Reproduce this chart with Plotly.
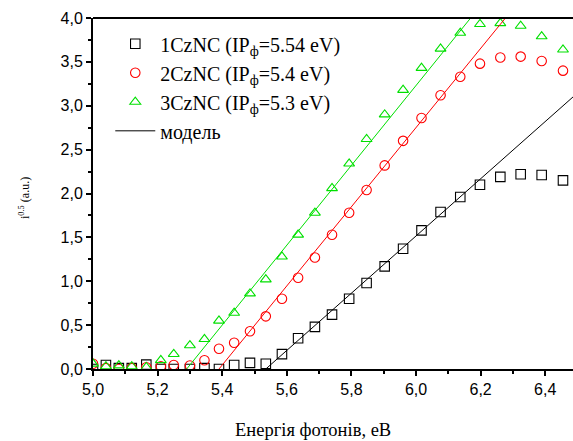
import plotly.graph_objects as go

# photon energies (eV)
energy = [5.00, 5.04, 5.08, 5.12, 5.165, 5.21, 5.25, 5.30, 5.345, 5.39,
          5.437, 5.486, 5.535, 5.585, 5.635, 5.687, 5.740, 5.793, 5.847,
          5.903, 5.960, 6.017, 6.076, 6.137, 6.198, 6.261, 6.324, 6.389, 6.455]

cz1 = [0.00, 0.045, 0.01, 0.01, 0.05, 0.00, 0.00, 0.00, 0.01, 0.00,
       0.045, 0.07, 0.06, 0.17, 0.35, 0.48, 0.62, 0.80, 0.98,
       1.17, 1.37, 1.58, 1.79, 1.96, 2.10, 2.19, 2.22, 2.21, 2.15]
cz2 = [0.06, 0.01, 0.00, 0.01, 0.02, 0.03, 0.045, 0.04, 0.10, 0.23,
       0.30, 0.43, 0.60, 0.80, 1.04, 1.27, 1.53, 1.78, 2.04,
       2.32, 2.60, 2.86, 3.12, 3.33, 3.48, 3.55, 3.56, 3.51, 3.40]
cz3 = [0.06, 0.03, 0.04, 0.03, 0.02, 0.10, 0.17, 0.27, 0.34, 0.55,
       0.64, 0.86, 1.02, 1.28, 1.53, 1.78, 2.06, 2.34, 2.62,
       2.90, 3.18, 3.43, 3.65, 3.83, 3.93, 3.94, 3.91, 3.79, 3.64]

# linear model: onset (IP) and slope for each compound
model_ip = [5.535, 5.39, 5.29]
model_slope = [3.26, 4.51, 4.55]
model_colors = ["#000000", "#ff0000", "#00e000"]
model_end = 6.5

labels = ["1CzNC (IP<sub>ф</sub>=5.54 eV)",
          "2CzNC (IP<sub>ф</sub>=5.4 eV)",
          "3CzNC (IP<sub>ф</sub>=5.3 eV)"]
symbols = ["square-open", "circle-open", "triangle-up-open"]
series = [cz1, cz2, cz3]

x_title = "Енергія фотонів, eВ"
y_title = "i<sup>0.5</sup> (a.u.)"

fig = go.Figure()
for j, (ys, lab, sym, col) in enumerate(zip(series, labels, symbols, model_colors)):
    fig.add_trace(go.Scatter(
        x=energy, y=ys, mode="markers", name=lab, legendgroup=f"g{j}",
        marker=dict(symbol=sym, size=9.5, color=col, line=dict(width=1.1, color=col)),
        cliponaxis=True))

for i, (ip, k, col) in enumerate(zip(model_ip, model_slope, model_colors)):
    xs = [ip, model_end]
    ys = [0.0, k * (model_end - ip)]
    fig.add_trace(go.Scatter(
        x=xs, y=ys, mode="lines", name="модель", legendgroup="model",
        line=dict(color=col, width=1),
        showlegend=(i == 0)))

serif = "Liberation Serif, Times New Roman, serif"
sans = "Liberation Sans, Arial, sans-serif"

fig.update_layout(
    width=573, height=441,
    margin=dict(l=93, r=0, t=18, b=72),
    plot_bgcolor="white", paper_bgcolor="white",
    separators=",.",
    showlegend=True,
    legend=dict(x=0.036, y=0.982, xanchor="left", yanchor="top",
                font=dict(family=serif, size=20, color="black"),
                bgcolor="rgba(0,0,0,0)", tracegroupgap=0,
                itemwidth=40),
    xaxis=dict(range=[5.0, 6.486], tickmode="linear", tick0=5.0, dtick=0.2,
               tickformat=".1f", ticks="outside", ticklen=5, tickwidth=1.5,
               tickcolor="black", showline=True, linecolor="black", linewidth=2,
               mirror=False, showgrid=False, zeroline=False,
               tickfont=dict(family=sans, size=16, color="black"),
               minor=dict(dtick=0.1, ticks="outside", ticklen=3, tickcolor="black", tickwidth=1.5)),
    yaxis=dict(range=[0, 4.0], tickmode="linear", tick0=0, dtick=0.5,
               tickformat=".1f", ticks="outside", ticklen=5, tickwidth=1.5,
               tickcolor="black", showline=True, linecolor="black", linewidth=2,
               showgrid=False, zeroline=False,
               tickfont=dict(family=sans, size=16, color="black"),
               minor=dict(dtick=0.25, ticks="outside", ticklen=3, tickcolor="black", tickwidth=1.5)),
    annotations=[
        dict(text=x_title, xref="paper", yref="paper", x=(313 - 93) / 480, y=-(430 - 369) / 351,
             xanchor="center", yanchor="middle", showarrow=False,
             font=dict(family=serif, size=18.5, color="black")),
        dict(text=y_title, xref="paper", yref="paper", x=(25 - 93) / 480, y=(369 - 198) / 351,
             xanchor="center", yanchor="middle", showarrow=False, textangle=-90,
             font=dict(family=serif, size=12, color="black")),
    ],
)

# top frame line
fig.add_shape(type="line", xref="paper", yref="paper", x0=0, x1=1, y0=1, y1=1,
              line=dict(color="black", width=2))

fig.write_html("out.html")
